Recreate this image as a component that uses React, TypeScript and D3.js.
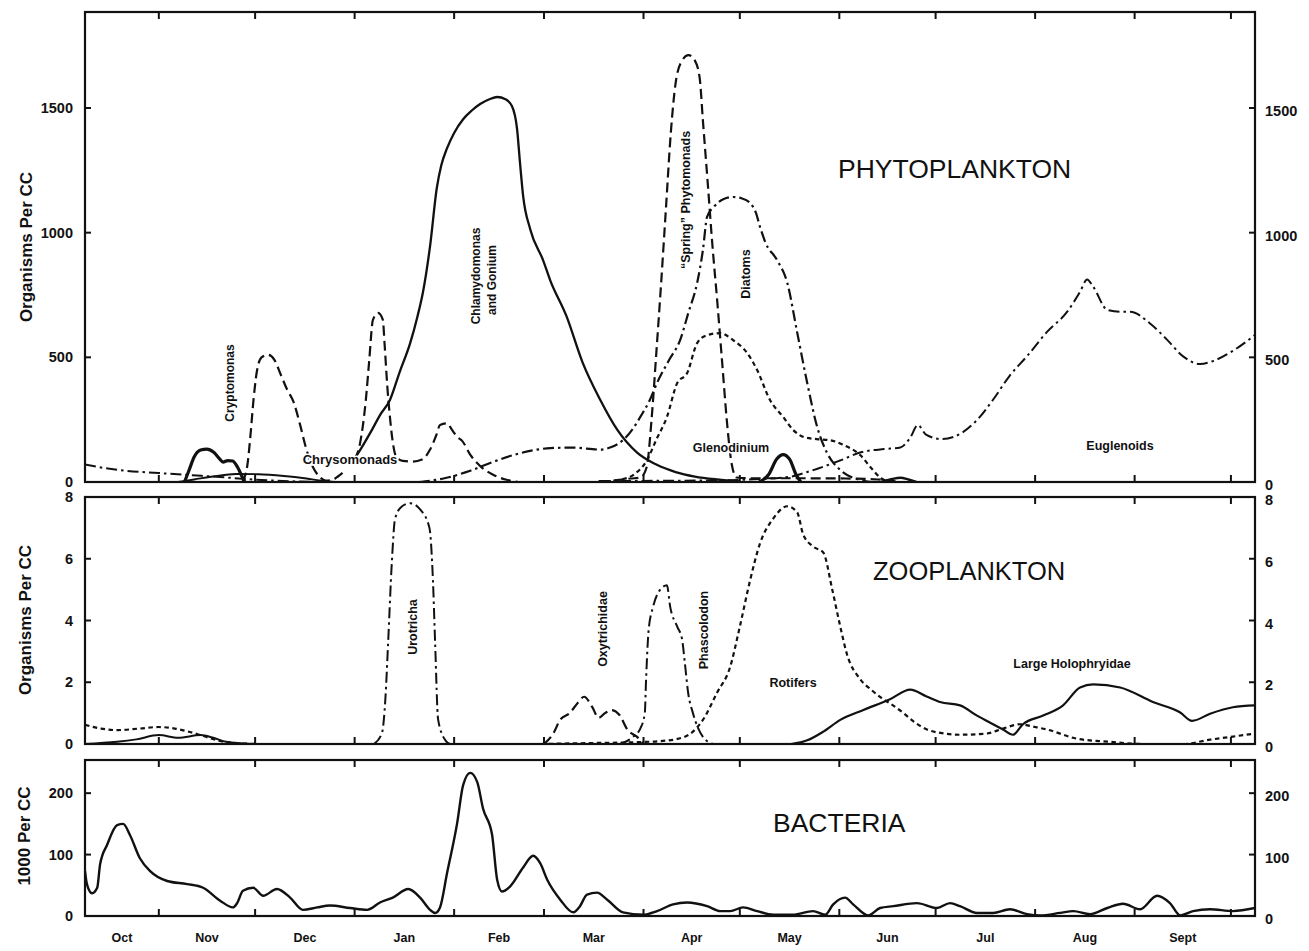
import React from "react";
import * as d3 from "d3";

type Pt = [number, number];

// x positions are days counted from 1 October
const monthStarts = [0, 31, 61, 92, 123, 151, 182, 212, 243, 273, 304, 335, 365];
const monthNames = ["Oct", "Nov", "Dec", "Jan", "Feb", "Mar", "Apr", "May", "Jun", "Jul", "Aug", "Sept"];
const dayDomain: [number, number] = [8, 372.5];

const phytoTicks = [0, 500, 1000, 1500];
const zooTicks = [0, 2, 4, 6, 8];
const bacteriaTicks = [0, 100, 200];

// ---- Phytoplankton, organisms per cc ----
const cryptomonasAutumn: Pt[] = [[39, 0], [40.5, 50], [42, 100], [44, 128], [46, 132], [48, 120], [50, 92], [51, 80], [52.5, 86], [54, 84], [55.5, 60], [57, 20], [57.8, 0]];
const cryptomonasMay: Pt[] = [[218, 0], [221, 30], [223.5, 92], [225.5, 110], [227.5, 92], [229.5, 30], [231, 0]];
const cryptomonasJune: Pt[] = [[256, 0], [259.5, 12], [262, 17], [264.5, 10], [267, 0]];
const lowSolid: Pt[] = [[37, 0], [42, 10], [48, 22], [55, 32], [62, 31], [70, 24], [77, 14], [82, 5], [86, 0]];
const chlamydomonas: Pt[] = [[92, 95], [93.7, 128], [97, 200], [100, 270], [103, 329], [106, 440], [109.3, 557], [111.5, 660], [113.3, 762], [115.5, 946], [117.6, 1179], [119, 1270], [120.8, 1339], [123, 1400], [125.8, 1455], [128.5, 1490], [131.1, 1516], [134, 1535], [136.4, 1544], [139, 1535], [141, 1508], [142.6, 1416], [143.5, 1283], [144.5, 1147], [146.7, 1014], [150.7, 890], [152.9, 810], [158, 665], [163, 480], [168.5, 330], [173.8, 210], [180, 118], [186, 70], [192, 40], [198, 22], [205, 10], [212, 2]];
const chrysomonadsAutumn: Pt[] = [[57, 0], [58.5, 60], [59.5, 180], [60.5, 330], [61.5, 440], [63, 500], [65, 510], [67, 490], [69, 430], [71, 370], [73, 320], [75, 230], [77, 130], [79, 60], [81, 22], [83, 6], [85, 8], [87, 24], [89, 45]];
const chrysomonadsWinter: Pt[] = [[92, 90], [93.7, 156], [95.5, 330], [96.5, 480], [97.7, 650], [99.3, 678], [100.8, 650], [101.3, 560], [102.2, 380], [103, 260], [104, 150], [105, 100], [107, 85], [110, 82], [113, 90], [115.5, 130], [117.5, 190], [118.6, 229], [120.8, 235], [122.3, 210], [124, 180], [125.5, 165], [128, 110], [131, 65], [135, 30], [139, 10], [143, 0]];
const springPhytomonads: Pt[] = [[168, 0], [174, 8], [178, 14], [181, 18], [183, 60], [184.5, 250], [186, 520], [187.5, 800], [189, 1100], [190.5, 1400], [192, 1600], [194, 1690], [196, 1712], [198, 1690], [199.5, 1620], [200.5, 1450], [202, 1200], [203.4, 960], [205, 720], [206.5, 480], [208, 240], [209.5, 70], [211, 18], [215, 15], [230, 15], [245, 14], [255, 10], [262, 0]];
const diatoms: Pt[] = [[112, 0], [120, 15], [128, 45], [135, 80], [142, 110], [148, 128], [153, 136], [160, 138], [168.5, 130], [172, 140], [175.6, 168], [178.5, 210], [181, 261], [184, 330], [186.2, 397], [190, 490], [193.4, 569], [196, 680], [198.7, 798], [200.5, 930], [201.8, 1063], [204, 1105], [207, 1135], [210, 1143], [212.5, 1138], [215.2, 1119], [217, 1080], [218.3, 1023], [220, 960], [223.6, 890], [226.8, 798], [229.9, 598], [233, 397], [236.1, 221], [239.2, 116], [243.3, 48], [249.5, 8], [253, 0]];
const glenodinium: Pt[] = [[168, 0], [175, 10], [179, 30], [183.1, 88], [186, 170], [189.3, 261], [192.5, 397], [195.6, 437], [198.7, 557], [201.8, 589], [205.9, 597], [209.9, 569], [214.3, 517], [217.4, 449], [221.4, 329], [225.5, 261], [228.6, 209], [232, 180], [236, 172], [240, 168], [244, 150], [249.5, 108], [253, 55], [256, 15], [259, 0]];
const euglenoidsAutumn: Pt[] = [[8, 70], [14, 56], [20, 46], [31, 36], [40, 28], [50, 20], [58, 12], [68, 5], [80, 0]];
const euglenoidsSummer: Pt[] = [[168, 4], [200, 6], [215, 10], [228, 22], [233, 40], [243, 85], [250, 120], [257, 132], [262, 138], [265, 176], [267.5, 228], [270, 190], [275, 172], [281, 196], [286, 250], [291, 332], [296, 425], [301.5, 505], [307.7, 602], [314, 683], [318, 763], [320.2, 812], [322, 785], [326.5, 690], [330.5, 683], [333.6, 683], [339.8, 636], [345, 572], [350, 505], [355.4, 473], [359.4, 485], [365.6, 526], [372.5, 590]];

// ---- Zooplankton, organisms per cc ----
const urotricha: Pt[] = [[98, 0], [100.5, 0.35], [101.6, 1.5], [102.4, 3.2], [103.6, 5.9], [104.6, 7.3], [106.8, 7.7], [109.3, 7.8], [112.4, 7.6], [115.3, 7.0], [116.4, 5.3], [117.1, 3.2], [118, 0.8], [120.2, 0.13], [121.7, 0]];
const oxytrichidae: Pt[] = [[151, 0], [154, 0.36], [156, 0.78], [159, 1.0], [161.5, 1.33], [163.5, 1.53], [166, 1.2], [168, 0.85], [170, 1.0], [172, 1.1], [174.5, 0.94], [177, 0.46], [180, 0.23], [182, 0]];
const phascolodon: Pt[] = [[174.7, 0], [178.7, 0.23], [181, 0.5], [182.4, 1.0], [182.8, 2.1], [183.6, 3.7], [185, 4.45], [187.2, 5.0], [189.3, 5.14], [190.3, 4.45], [192.5, 3.8], [194, 3.4], [194.9, 2.6], [195.9, 1.66], [197.4, 1.0], [200.5, 0.23], [203.7, 0]];
const rotifersAutumn: Pt[] = [[8, 0.62], [13, 0.5], [18, 0.45], [25, 0.5], [31, 0.55], [36, 0.5], [41, 0.38], [46, 0.22], [50, 0.1], [55, 0.03], [62, 0]];
const rotifers: Pt[] = [[150, 0], [165, 0.03], [180, 0.06], [188, 0.1], [192, 0.15], [197.4, 0.4], [200.5, 0.78], [204.9, 1.66], [209, 2.5], [212, 3.8], [215.2, 5.3], [218.3, 6.5], [222.4, 7.3], [226.8, 7.7], [229.9, 7.5], [231.7, 6.8], [234.8, 6.4], [238, 6.2], [240.8, 5.0], [243.3, 3.8], [245.4, 2.9], [249.5, 2.1], [253, 1.75], [256, 1.5], [259, 1.3], [263, 1.0], [266.5, 0.7], [270.3, 0.47], [275, 0.35], [280.6, 0.3], [289, 0.34], [294, 0.5], [299.3, 0.64], [304, 0.55], [307.7, 0.47], [317.1, 0.17], [327.4, 0.07], [337.6, 0], [350, 0], [358.5, 0.14], [365.6, 0.24], [372.5, 0.34]];
const holophryidaeAutumn: Pt[] = [[8, 0], [18, 0.07], [24, 0.15], [31, 0.29], [37, 0.2], [44, 0.29], [48, 0.2], [52, 0.07], [60, 0]];
const holophryidae: Pt[] = [[228, 0], [233, 0.12], [238, 0.4], [243.3, 0.78], [250.5, 1.1], [258.8, 1.45], [265.1, 1.76], [270, 1.55], [274.4, 1.36], [280.6, 1.25], [285.9, 0.92], [290.9, 0.64], [294, 0.47], [297.1, 0.3], [300.2, 0.64], [306.5, 0.92], [312.7, 1.25], [318, 1.83], [322.1, 1.93], [330.5, 1.83], [340.7, 1.36], [349.2, 1.02], [352.9, 0.75], [358.5, 0.98], [365.6, 1.19], [372.5, 1.25]];

// ---- Bacteria, thousands per cc ----
const bacteria: Pt[] = [[8, 73], [8.6, 52], [10.2, 37], [11.8, 46], [12.7, 84], [14.9, 116], [18, 148], [19.9, 150], [22, 132], [25.1, 94], [28.3, 73], [33.6, 57], [39.8, 52], [44.8, 46], [50.1, 25], [54.1, 14], [55.4, 21], [57.2, 41], [60.4, 46], [63.5, 33], [67.8, 44], [71.9, 30], [75.9, 10], [80.3, 14], [84.3, 17], [90.6, 13], [95.9, 10], [99.9, 22], [103.9, 30], [108.7, 44], [112.4, 30], [115.5, 10], [117.1, 5], [118.6, 14], [120.8, 70], [123.9, 150], [125.8, 213], [128, 233], [130.2, 218], [132, 175], [134.8, 133], [136.4, 59], [137.9, 40], [140.4, 48], [144.5, 79], [147.6, 98], [149.8, 86], [152, 59], [156, 27], [160.1, 6], [162.2, 16], [164.4, 35], [167.5, 38], [170.6, 27], [175.6, 6], [181.9, 2], [186.2, 8], [191.2, 19], [195.6, 22], [201.8, 16], [205.9, 8], [209, 8], [213, 14], [217.4, 8], [222.4, 2], [228.6, 2], [234.8, 8], [238.6, 2], [241.1, 19], [244.8, 30], [247.3, 19], [252, 1], [255.7, 13], [259.8, 16], [267.2, 21], [273.4, 13], [277.5, 21], [280.6, 16], [285.9, 5], [290.9, 5], [296.2, 11], [301.5, 3], [305.6, 1], [311.8, 5], [315.9, 8], [321.1, 3], [326.5, 13], [331.4, 20], [336.7, 11], [342, 33], [346, 21], [349.2, 1], [353.2, 8], [358.5, 11], [365.6, 8], [372.5, 13]];

const W = 1309;
const H = 951;
const X0 = 85;
const X1 = 1255;

type PanelKey = "phyto" | "zoo" | "bact";
const panels: Record<PanelKey, { top: number; bottom: number; max: number; ticks: number[] }> = {
  phyto: { top: 12, bottom: 482, max: 1885, ticks: phytoTicks },
  zoo: { top: 497, bottom: 744, max: 8, ticks: zooTicks },
  bact: { top: 760, bottom: 916, max: 254, ticks: bacteriaTicks },
};

const DASH = {
  solid: undefined as string | undefined,
  long: "10,5",
  dashDot: "11,4,2.5,4",
  short: "4.5,3.5",
};

const series: { data: Pt[]; panel: PanelKey; dash?: string; width: number }[] = [
  { data: euglenoidsAutumn, panel: "phyto", dash: DASH.dashDot, width: 2 },
  { data: euglenoidsSummer, panel: "phyto", dash: DASH.dashDot, width: 2 },
  { data: lowSolid, panel: "phyto", dash: DASH.solid, width: 1.8 },
  { data: cryptomonasAutumn, panel: "phyto", dash: DASH.solid, width: 3.2 },
  { data: cryptomonasMay, panel: "phyto", dash: DASH.solid, width: 3.2 },
  { data: cryptomonasJune, panel: "phyto", dash: DASH.solid, width: 2.4 },
  { data: chlamydomonas, panel: "phyto", dash: DASH.solid, width: 2.3 },
  { data: chrysomonadsAutumn, panel: "phyto", dash: DASH.long, width: 2.2 },
  { data: chrysomonadsWinter, panel: "phyto", dash: DASH.long, width: 2.2 },
  { data: springPhytomonads, panel: "phyto", dash: DASH.long, width: 2.2 },
  { data: diatoms, panel: "phyto", dash: DASH.dashDot, width: 2.2 },
  { data: glenodinium, panel: "phyto", dash: DASH.short, width: 2.2 },
  { data: urotricha, panel: "zoo", dash: DASH.dashDot, width: 2 },
  { data: oxytrichidae, panel: "zoo", dash: DASH.long, width: 2.2 },
  { data: phascolodon, panel: "zoo", dash: DASH.dashDot, width: 2 },
  { data: rotifersAutumn, panel: "zoo", dash: DASH.short, width: 2.2 },
  { data: rotifers, panel: "zoo", dash: DASH.short, width: 2.2 },
  { data: holophryidaeAutumn, panel: "zoo", dash: DASH.solid, width: 2 },
  { data: holophryidae, panel: "zoo", dash: DASH.solid, width: 2.2 },
  { data: bacteria, panel: "bact", dash: DASH.solid, width: 2.4 },
];

const FONT = "'Liberation Sans', Arial, Helvetica, sans-serif";

export default function App() {
  const x = d3.scaleLinear().domain(dayDomain).range([X0, X1]);
  const yScales: Record<PanelKey, d3.ScaleLinear<number, number>> = {
    phyto: d3.scaleLinear().domain([0, panels.phyto.max]).range([panels.phyto.bottom, panels.phyto.top]),
    zoo: d3.scaleLinear().domain([0, panels.zoo.max]).range([panels.zoo.bottom, panels.zoo.top]),
    bact: d3.scaleLinear().domain([0, panels.bact.max]).range([panels.bact.bottom, panels.bact.top]),
  };

  const innerTicks = monthStarts.filter((d) => d > dayDomain[0] && d < dayDomain[1]);
  const monthCenters = monthNames.map((_, i) => {
    const a = Math.max(monthStarts[i], dayDomain[0]);
    const b = Math.min(monthStarts[i + 1], dayDomain[1]);
    return (a + b) / 2;
  });

  const label = (
    text: string,
    lx: number,
    ly: number,
    opts: { rotate?: boolean; size?: number; weight?: string | number; anchor?: string } = {}
  ) => (
    <text
      key={text + lx}
      transform={`translate(${lx},${ly})${opts.rotate ? " rotate(-90)" : ""}`}
      textAnchor={opts.anchor ?? "middle"}
      dominantBaseline="central"
      fontFamily={FONT}
      fontSize={opts.size ?? 13}
      fontWeight={opts.weight ?? "bold"}
      fill="#111"
      stroke="#fff"
      strokeWidth={3}
      paintOrder="stroke"
    >
      {text}
    </text>
  );

  return (
    <svg
      width={W}
      height={H}
      viewBox={`0 0 ${W} ${H}`}
      style={{ position: "absolute", left: 0, top: 0, background: "#fff" }}
    >
      <defs>
        {(Object.keys(panels) as PanelKey[]).map((k) => (
          <clipPath id={`clip-${k}`} key={k}>
            <rect x={X0} y={panels[k].top} width={X1 - X0} height={panels[k].bottom - panels[k].top} />
          </clipPath>
        ))}
      </defs>
      <rect x={0} y={0} width={W} height={H} fill="#fff" />

      {/* curves */}
      {series.map((s, i) => {
        const line = d3
          .line<Pt>()
          .x((d) => x(d[0]))
          .y((d) => yScales[s.panel](d[1]))
          .curve(d3.curveMonotoneX);
        return (
          <path
            key={i}
            d={line(s.data) ?? ""}
            fill="none"
            stroke="#111"
            strokeWidth={s.width}
            strokeDasharray={s.dash}
            strokeLinejoin="round"
            strokeLinecap="butt"
            clipPath={`url(#clip-${s.panel})`}
          />
        );
      })}

      {/* frames, ticks and value labels */}
      {(Object.keys(panels) as PanelKey[]).map((k) => {
        const p = panels[k];
        const y = yScales[k];
        return (
          <g key={k}>
            <rect x={X0} y={p.top} width={X1 - X0} height={p.bottom - p.top} fill="none" stroke="#111" strokeWidth={2.2} />
            {innerTicks.map((d) => (
              <g key={d}>
                <line x1={x(d)} x2={x(d)} y1={p.top} y2={p.top + 7} stroke="#111" strokeWidth={2} />
                <line x1={x(d)} x2={x(d)} y1={p.bottom} y2={p.bottom - 7} stroke="#111" strokeWidth={2} />
              </g>
            ))}
            {p.ticks.map((t) => (
              <g key={t}>
                {t > 0 && t < p.max && (
                  <>
                    <line x1={X0} x2={X0 + 6} y1={y(t)} y2={y(t)} stroke="#111" strokeWidth={2} />
                    <line x1={X1 - 6} x2={X1} y1={y(t)} y2={y(t)} stroke="#111" strokeWidth={2} />
                  </>
                )}
                <text x={X0 - 12} y={y(t)} textAnchor="end" dominantBaseline="central" fontFamily={FONT} fontSize={14.5} fontWeight="bold" fill="#111">
                  {t}
                </text>
                <text x={X1 + 10} y={y(t) + 3} textAnchor="start" dominantBaseline="central" fontFamily={FONT} fontSize={14.5} fontWeight="bold" fill="#111">
                  {t}
                </text>
              </g>
            ))}
          </g>
        );
      })}

      {/* month labels */}
      {monthNames.map((m, i) => (
        <text key={m} x={x(monthCenters[i])} y={938} textAnchor="middle" dominantBaseline="central" fontFamily={FONT} fontSize={12.5} fontWeight="bold" fill="#111">
          {m}
        </text>
      ))}

      {/* axis titles */}
      {label("Organisms Per CC", 26, 247, { rotate: true, size: 17 })}
      {label("Organisms Per CC", 25, 620, { rotate: true, size: 17 })}
      {label("1000 Per CC", 24, 836, { rotate: true, size: 17 })}

      {/* panel titles */}
      <text x={838} y={178} fontFamily={FONT} fontSize={26.5} fill="#111">PHYTOPLANKTON</text>
      <text x={873} y={580} fontFamily={FONT} fontSize={25.5} fill="#111">ZOOPLANKTON</text>
      <text x={773} y={832} fontFamily={FONT} fontSize={26.5} fill="#111">BACTERIA</text>

      {/* group labels */}
      {label("Cryptomonas", 230, 383, { rotate: true, size: 12 })}
      {label("Chrysomonads", 350, 459, { size: 13 })}
      {label("Chlamydomonas", 476, 276, { rotate: true, size: 12 })}
      {label("and Gonium", 492, 280, { rotate: true, size: 12 })}
      {label("\u201CSpring\u201D Phytomonads", 686, 200, { rotate: true, size: 12.5 })}
      {label("Diatoms", 746, 274, { rotate: true, size: 12.5 })}
      {label("Glenodinium", 731, 448, { size: 12.5 })}
      {label("Euglenoids", 1120, 446, { size: 12.5 })}
      {label("Urotricha", 413, 627, { rotate: true, size: 12.5 })}
      {label("Oxytrichidae", 603, 629, { rotate: true, size: 12.5 })}
      {label("Phascolodon", 704, 630, { rotate: true, size: 12.5 })}
      {label("Rotifers", 793, 683, { size: 12.5 })}
      {label("Large Holophryidae", 1072, 664, { size: 12.5 })}
    </svg>
  );
}
